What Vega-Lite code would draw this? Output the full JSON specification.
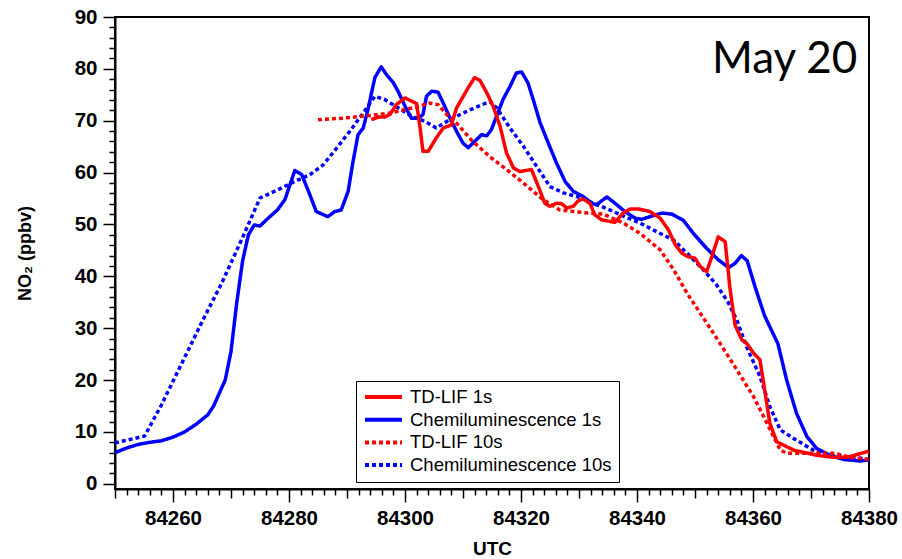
{
  "$schema": "https://vega.github.io/schema/vega-lite/v6.json",
  "width": 754,
  "height": 472,
  "autosize": {"type": "none"},
  "padding": {"left": 115, "top": 17, "right": 33, "bottom": 70},
  "background": "white",
  "config": {
    "view": {"stroke": "black", "strokeWidth": 2},
    "font": "Liberation Sans"
  },
  "datasets": {
    "lines": [
      {"series": "Chemiluminescence 1s", "t": 84250, "v": 6.0},
      {"series": "Chemiluminescence 1s", "t": 84252, "v": 6.9},
      {"series": "Chemiluminescence 1s", "t": 84254, "v": 7.6},
      {"series": "Chemiluminescence 1s", "t": 84256, "v": 8.0},
      {"series": "Chemiluminescence 1s", "t": 84258, "v": 8.3},
      {"series": "Chemiluminescence 1s", "t": 84260, "v": 9.0},
      {"series": "Chemiluminescence 1s", "t": 84262, "v": 10.0},
      {"series": "Chemiluminescence 1s", "t": 84264, "v": 11.5},
      {"series": "Chemiluminescence 1s", "t": 84266, "v": 13.3},
      {"series": "Chemiluminescence 1s", "t": 84267, "v": 15.0},
      {"series": "Chemiluminescence 1s", "t": 84268, "v": 17.5},
      {"series": "Chemiluminescence 1s", "t": 84269, "v": 20.0},
      {"series": "Chemiluminescence 1s", "t": 84270, "v": 25.5},
      {"series": "Chemiluminescence 1s", "t": 84271, "v": 35.0},
      {"series": "Chemiluminescence 1s", "t": 84272, "v": 43.0},
      {"series": "Chemiluminescence 1s", "t": 84273, "v": 48.0},
      {"series": "Chemiluminescence 1s", "t": 84274, "v": 49.9},
      {"series": "Chemiluminescence 1s", "t": 84275, "v": 49.7},
      {"series": "Chemiluminescence 1s", "t": 84276.4, "v": 51.2},
      {"series": "Chemiluminescence 1s", "t": 84278, "v": 52.8},
      {"series": "Chemiluminescence 1s", "t": 84279.3, "v": 54.8},
      {"series": "Chemiluminescence 1s", "t": 84281, "v": 60.4},
      {"series": "Chemiluminescence 1s", "t": 84282.2, "v": 59.6},
      {"series": "Chemiluminescence 1s", "t": 84283.5, "v": 56.0},
      {"series": "Chemiluminescence 1s", "t": 84284.7, "v": 52.5},
      {"series": "Chemiluminescence 1s", "t": 84286.7, "v": 51.5},
      {"series": "Chemiluminescence 1s", "t": 84287.9, "v": 52.5},
      {"series": "Chemiluminescence 1s", "t": 84289, "v": 52.8},
      {"series": "Chemiluminescence 1s", "t": 84290.2, "v": 56.4},
      {"series": "Chemiluminescence 1s", "t": 84291, "v": 61.9},
      {"series": "Chemiluminescence 1s", "t": 84291.9, "v": 67.3},
      {"series": "Chemiluminescence 1s", "t": 84292.8, "v": 68.6},
      {"series": "Chemiluminescence 1s", "t": 84293.6, "v": 72.1},
      {"series": "Chemiluminescence 1s", "t": 84294.8, "v": 78.3},
      {"series": "Chemiluminescence 1s", "t": 84295.9, "v": 80.4},
      {"series": "Chemiluminescence 1s", "t": 84296.8, "v": 78.9},
      {"series": "Chemiluminescence 1s", "t": 84298, "v": 77.3},
      {"series": "Chemiluminescence 1s", "t": 84298.8, "v": 75.7},
      {"series": "Chemiluminescence 1s", "t": 84300, "v": 72.8},
      {"series": "Chemiluminescence 1s", "t": 84301.1, "v": 70.5},
      {"series": "Chemiluminescence 1s", "t": 84302.3, "v": 70.5},
      {"series": "Chemiluminescence 1s", "t": 84303.1, "v": 71.2},
      {"series": "Chemiluminescence 1s", "t": 84303.7, "v": 74.7},
      {"series": "Chemiluminescence 1s", "t": 84304.6, "v": 75.7},
      {"series": "Chemiluminescence 1s", "t": 84305.7, "v": 75.5},
      {"series": "Chemiluminescence 1s", "t": 84306.6, "v": 73.4},
      {"series": "Chemiluminescence 1s", "t": 84308, "v": 69.9},
      {"series": "Chemiluminescence 1s", "t": 84309.2, "v": 67.3},
      {"series": "Chemiluminescence 1s", "t": 84310, "v": 65.7},
      {"series": "Chemiluminescence 1s", "t": 84310.9, "v": 64.8},
      {"series": "Chemiluminescence 1s", "t": 84312, "v": 66.0},
      {"series": "Chemiluminescence 1s", "t": 84313.2, "v": 67.3},
      {"series": "Chemiluminescence 1s", "t": 84314.1, "v": 67.1},
      {"series": "Chemiluminescence 1s", "t": 84314.9, "v": 68.3},
      {"series": "Chemiluminescence 1s", "t": 84315.8, "v": 70.9},
      {"series": "Chemiluminescence 1s", "t": 84316.9, "v": 74.1},
      {"series": "Chemiluminescence 1s", "t": 84318.1, "v": 76.6},
      {"series": "Chemiluminescence 1s", "t": 84319.2, "v": 79.2},
      {"series": "Chemiluminescence 1s", "t": 84320.1, "v": 79.4},
      {"series": "Chemiluminescence 1s", "t": 84321.2, "v": 77.3},
      {"series": "Chemiluminescence 1s", "t": 84322.1, "v": 74.1},
      {"series": "Chemiluminescence 1s", "t": 84323.3, "v": 69.6},
      {"series": "Chemiluminescence 1s", "t": 84324.7, "v": 65.7},
      {"series": "Chemiluminescence 1s", "t": 84326.1, "v": 61.9},
      {"series": "Chemiluminescence 1s", "t": 84327.6, "v": 58.3},
      {"series": "Chemiluminescence 1s", "t": 84329, "v": 56.4},
      {"series": "Chemiluminescence 1s", "t": 84330.7, "v": 55.4},
      {"series": "Chemiluminescence 1s", "t": 84332.2, "v": 54.1},
      {"series": "Chemiluminescence 1s", "t": 84333, "v": 53.8},
      {"series": "Chemiluminescence 1s", "t": 84334.8, "v": 55.3},
      {"series": "Chemiluminescence 1s", "t": 84336.2, "v": 54.1},
      {"series": "Chemiluminescence 1s", "t": 84337.9, "v": 52.5},
      {"series": "Chemiluminescence 1s", "t": 84339.7, "v": 51.2},
      {"series": "Chemiluminescence 1s", "t": 84340.8, "v": 51.0},
      {"series": "Chemiluminescence 1s", "t": 84342.2, "v": 51.5},
      {"series": "Chemiluminescence 1s", "t": 84344.3, "v": 52.2},
      {"series": "Chemiluminescence 1s", "t": 84346, "v": 52.0},
      {"series": "Chemiluminescence 1s", "t": 84348, "v": 50.8},
      {"series": "Chemiluminescence 1s", "t": 84349.7, "v": 48.3},
      {"series": "Chemiluminescence 1s", "t": 84352, "v": 45.4},
      {"series": "Chemiluminescence 1s", "t": 84354, "v": 43.2},
      {"series": "Chemiluminescence 1s", "t": 84355.8, "v": 41.7},
      {"series": "Chemiluminescence 1s", "t": 84356.9, "v": 42.5},
      {"series": "Chemiluminescence 1s", "t": 84358, "v": 44.0},
      {"series": "Chemiluminescence 1s", "t": 84359, "v": 43.0},
      {"series": "Chemiluminescence 1s", "t": 84360.4, "v": 37.8},
      {"series": "Chemiluminescence 1s", "t": 84362, "v": 32.4},
      {"series": "Chemiluminescence 1s", "t": 84364.3, "v": 27.0},
      {"series": "Chemiluminescence 1s", "t": 84365.8, "v": 20.0},
      {"series": "Chemiluminescence 1s", "t": 84367.5, "v": 13.6},
      {"series": "Chemiluminescence 1s", "t": 84369.3, "v": 9.1},
      {"series": "Chemiluminescence 1s", "t": 84371, "v": 6.8},
      {"series": "Chemiluminescence 1s", "t": 84373.3, "v": 5.5},
      {"series": "Chemiluminescence 1s", "t": 84375.6, "v": 4.7},
      {"series": "Chemiluminescence 1s", "t": 84378.5, "v": 4.4},
      {"series": "Chemiluminescence 1s", "t": 84380, "v": 4.6},

      {"series": "Chemiluminescence 10s", "t": 84250, "v": 7.9},
      {"series": "Chemiluminescence 10s", "t": 84255.1, "v": 9.2},
      {"series": "Chemiluminescence 10s", "t": 84258, "v": 15.2},
      {"series": "Chemiluminescence 10s", "t": 84261.5, "v": 23.2},
      {"series": "Chemiluminescence 10s", "t": 84264.9, "v": 31.0},
      {"series": "Chemiluminescence 10s", "t": 84268.4, "v": 38.7},
      {"series": "Chemiluminescence 10s", "t": 84271.8, "v": 47.0},
      {"series": "Chemiluminescence 10s", "t": 84275, "v": 55.1},
      {"series": "Chemiluminescence 10s", "t": 84278.1, "v": 56.7},
      {"series": "Chemiluminescence 10s", "t": 84281, "v": 58.3},
      {"series": "Chemiluminescence 10s", "t": 84283.6, "v": 59.6},
      {"series": "Chemiluminescence 10s", "t": 84285.9, "v": 61.5},
      {"series": "Chemiluminescence 10s", "t": 84288.2, "v": 64.7},
      {"series": "Chemiluminescence 10s", "t": 84290.5, "v": 68.0},
      {"series": "Chemiluminescence 10s", "t": 84292.8, "v": 71.5},
      {"series": "Chemiluminescence 10s", "t": 84294.8, "v": 74.7},
      {"series": "Chemiluminescence 10s", "t": 84296.5, "v": 74.1},
      {"series": "Chemiluminescence 10s", "t": 84298.8, "v": 72.5},
      {"series": "Chemiluminescence 10s", "t": 84301.1, "v": 70.9},
      {"series": "Chemiluminescence 10s", "t": 84303.4, "v": 69.9},
      {"series": "Chemiluminescence 10s", "t": 84305.4, "v": 68.6},
      {"series": "Chemiluminescence 10s", "t": 84307.7, "v": 70.2},
      {"series": "Chemiluminescence 10s", "t": 84311.2, "v": 72.1},
      {"series": "Chemiluminescence 10s", "t": 84314.6, "v": 73.7},
      {"series": "Chemiluminescence 10s", "t": 84315.8, "v": 72.5},
      {"series": "Chemiluminescence 10s", "t": 84318.1, "v": 68.6},
      {"series": "Chemiluminescence 10s", "t": 84320.4, "v": 65.1},
      {"series": "Chemiluminescence 10s", "t": 84322.7, "v": 61.2},
      {"series": "Chemiluminescence 10s", "t": 84325, "v": 57.3},
      {"series": "Chemiluminescence 10s", "t": 84327.3, "v": 56.1},
      {"series": "Chemiluminescence 10s", "t": 84329.6, "v": 55.4},
      {"series": "Chemiluminescence 10s", "t": 84332.5, "v": 54.1},
      {"series": "Chemiluminescence 10s", "t": 84335.3, "v": 52.8},
      {"series": "Chemiluminescence 10s", "t": 84338.5, "v": 51.2},
      {"series": "Chemiluminescence 10s", "t": 84340.5, "v": 50.3},
      {"series": "Chemiluminescence 10s", "t": 84343.4, "v": 48.6},
      {"series": "Chemiluminescence 10s", "t": 84346.3, "v": 47.0},
      {"series": "Chemiluminescence 10s", "t": 84348.6, "v": 44.5},
      {"series": "Chemiluminescence 10s", "t": 84351.4, "v": 41.3},
      {"series": "Chemiluminescence 10s", "t": 84353.7, "v": 38.4},
      {"series": "Chemiluminescence 10s", "t": 84355.7, "v": 35.0},
      {"series": "Chemiluminescence 10s", "t": 84357.2, "v": 31.6},
      {"series": "Chemiluminescence 10s", "t": 84358.9, "v": 26.4},
      {"series": "Chemiluminescence 10s", "t": 84361.2, "v": 20.7},
      {"series": "Chemiluminescence 10s", "t": 84362.9, "v": 14.9},
      {"series": "Chemiluminescence 10s", "t": 84364.7, "v": 10.4},
      {"series": "Chemiluminescence 10s", "t": 84367.5, "v": 8.4},
      {"series": "Chemiluminescence 10s", "t": 84370.4, "v": 6.5},
      {"series": "Chemiluminescence 10s", "t": 84373.3, "v": 5.5},
      {"series": "Chemiluminescence 10s", "t": 84377.3, "v": 5.1},
      {"series": "Chemiluminescence 10s", "t": 84380, "v": 4.7},

      {"series": "TD-LIF 10s", "t": 84285, "v": 70.2},
      {"series": "TD-LIF 10s", "t": 84289.3, "v": 70.5},
      {"series": "TD-LIF 10s", "t": 84293.9, "v": 71.0},
      {"series": "TD-LIF 10s", "t": 84297.4, "v": 71.5},
      {"series": "TD-LIF 10s", "t": 84301.4, "v": 72.5},
      {"series": "TD-LIF 10s", "t": 84304.3, "v": 73.4},
      {"series": "TD-LIF 10s", "t": 84305.7, "v": 73.1},
      {"series": "TD-LIF 10s", "t": 84307.2, "v": 71.2},
      {"series": "TD-LIF 10s", "t": 84309, "v": 69.4},
      {"series": "TD-LIF 10s", "t": 84311.5, "v": 66.2},
      {"series": "TD-LIF 10s", "t": 84314.6, "v": 63.1},
      {"series": "TD-LIF 10s", "t": 84317.5, "v": 60.6},
      {"series": "TD-LIF 10s", "t": 84320.4, "v": 58.0},
      {"series": "TD-LIF 10s", "t": 84323.8, "v": 54.8},
      {"series": "TD-LIF 10s", "t": 84326.7, "v": 52.8},
      {"series": "TD-LIF 10s", "t": 84330.7, "v": 52.3},
      {"series": "TD-LIF 10s", "t": 84334.2, "v": 52.0},
      {"series": "TD-LIF 10s", "t": 84337.6, "v": 50.3},
      {"series": "TD-LIF 10s", "t": 84340.5, "v": 48.3},
      {"series": "TD-LIF 10s", "t": 84344, "v": 45.1},
      {"series": "TD-LIF 10s", "t": 84346.3, "v": 41.3},
      {"series": "TD-LIF 10s", "t": 84348.6, "v": 36.8},
      {"series": "TD-LIF 10s", "t": 84350.9, "v": 32.9},
      {"series": "TD-LIF 10s", "t": 84353.2, "v": 29.0},
      {"series": "TD-LIF 10s", "t": 84355.5, "v": 25.0},
      {"series": "TD-LIF 10s", "t": 84357.2, "v": 22.0},
      {"series": "TD-LIF 10s", "t": 84360.1, "v": 16.8},
      {"series": "TD-LIF 10s", "t": 84362.4, "v": 11.7},
      {"series": "TD-LIF 10s", "t": 84364.7, "v": 6.5},
      {"series": "TD-LIF 10s", "t": 84365.8, "v": 5.9},
      {"series": "TD-LIF 10s", "t": 84369.3, "v": 5.9},
      {"series": "TD-LIF 10s", "t": 84373.9, "v": 5.9},
      {"series": "TD-LIF 10s", "t": 84376.8, "v": 5.1},
      {"series": "TD-LIF 10s", "t": 84380, "v": 4.7},

      {"series": "TD-LIF 1s", "t": 84294.2, "v": 70.2},
      {"series": "TD-LIF 1s", "t": 84295.4, "v": 70.7},
      {"series": "TD-LIF 1s", "t": 84296.5, "v": 70.7},
      {"series": "TD-LIF 1s", "t": 84297.4, "v": 71.2},
      {"series": "TD-LIF 1s", "t": 84298.5, "v": 73.1},
      {"series": "TD-LIF 1s", "t": 84300, "v": 74.4},
      {"series": "TD-LIF 1s", "t": 84302, "v": 73.3},
      {"series": "TD-LIF 1s", "t": 84302.6, "v": 68.6},
      {"series": "TD-LIF 1s", "t": 84303.1, "v": 64.1},
      {"series": "TD-LIF 1s", "t": 84304, "v": 64.1},
      {"series": "TD-LIF 1s", "t": 84305.4, "v": 66.7},
      {"series": "TD-LIF 1s", "t": 84306.6, "v": 68.6},
      {"series": "TD-LIF 1s", "t": 84308, "v": 69.2},
      {"series": "TD-LIF 1s", "t": 84308.9, "v": 72.5},
      {"series": "TD-LIF 1s", "t": 84310, "v": 74.6},
      {"series": "TD-LIF 1s", "t": 84310.8, "v": 76.2},
      {"series": "TD-LIF 1s", "t": 84312, "v": 78.3},
      {"series": "TD-LIF 1s", "t": 84312.9, "v": 77.8},
      {"series": "TD-LIF 1s", "t": 84314.1, "v": 75.4},
      {"series": "TD-LIF 1s", "t": 84315.2, "v": 72.8},
      {"series": "TD-LIF 1s", "t": 84316.4, "v": 68.9},
      {"series": "TD-LIF 1s", "t": 84317.5, "v": 63.8},
      {"series": "TD-LIF 1s", "t": 84318.7, "v": 60.9},
      {"series": "TD-LIF 1s", "t": 84319.8, "v": 60.2},
      {"series": "TD-LIF 1s", "t": 84321.8, "v": 60.6},
      {"series": "TD-LIF 1s", "t": 84323, "v": 57.3},
      {"series": "TD-LIF 1s", "t": 84324.1, "v": 54.1},
      {"series": "TD-LIF 1s", "t": 84325, "v": 53.5},
      {"series": "TD-LIF 1s", "t": 84326.1, "v": 54.1},
      {"series": "TD-LIF 1s", "t": 84327, "v": 54.0},
      {"series": "TD-LIF 1s", "t": 84327.9, "v": 53.2},
      {"series": "TD-LIF 1s", "t": 84329, "v": 53.5},
      {"series": "TD-LIF 1s", "t": 84329.9, "v": 54.6},
      {"series": "TD-LIF 1s", "t": 84330.7, "v": 54.9},
      {"series": "TD-LIF 1s", "t": 84331.9, "v": 54.1},
      {"series": "TD-LIF 1s", "t": 84332.7, "v": 51.9},
      {"series": "TD-LIF 1s", "t": 84333.9, "v": 50.9},
      {"series": "TD-LIF 1s", "t": 84335.3, "v": 50.6},
      {"series": "TD-LIF 1s", "t": 84336.2, "v": 50.4},
      {"series": "TD-LIF 1s", "t": 84337.6, "v": 52.2},
      {"series": "TD-LIF 1s", "t": 84338.8, "v": 53.0},
      {"series": "TD-LIF 1s", "t": 84340.2, "v": 53.0},
      {"series": "TD-LIF 1s", "t": 84342.2, "v": 52.5},
      {"series": "TD-LIF 1s", "t": 84344, "v": 51.2},
      {"series": "TD-LIF 1s", "t": 84345.4, "v": 49.0},
      {"series": "TD-LIF 1s", "t": 84346.6, "v": 46.1},
      {"series": "TD-LIF 1s", "t": 84347.7, "v": 44.5},
      {"series": "TD-LIF 1s", "t": 84348.8, "v": 43.8},
      {"series": "TD-LIF 1s", "t": 84350, "v": 43.5},
      {"series": "TD-LIF 1s", "t": 84350.9, "v": 41.9},
      {"series": "TD-LIF 1s", "t": 84352, "v": 40.9},
      {"series": "TD-LIF 1s", "t": 84352.9, "v": 43.8},
      {"series": "TD-LIF 1s", "t": 84354, "v": 47.6},
      {"series": "TD-LIF 1s", "t": 84355.2, "v": 46.7},
      {"series": "TD-LIF 1s", "t": 84356, "v": 38.0},
      {"series": "TD-LIF 1s", "t": 84356.9, "v": 30.6},
      {"series": "TD-LIF 1s", "t": 84358.1, "v": 27.7},
      {"series": "TD-LIF 1s", "t": 84358.9, "v": 27.1},
      {"series": "TD-LIF 1s", "t": 84360.1, "v": 25.2},
      {"series": "TD-LIF 1s", "t": 84361.2, "v": 23.9},
      {"series": "TD-LIF 1s", "t": 84362.1, "v": 17.5},
      {"series": "TD-LIF 1s", "t": 84362.9, "v": 11.7},
      {"series": "TD-LIF 1s", "t": 84364.1, "v": 8.1},
      {"series": "TD-LIF 1s", "t": 84367, "v": 6.5},
      {"series": "TD-LIF 1s", "t": 84371, "v": 5.5},
      {"series": "TD-LIF 1s", "t": 84373.9, "v": 5.1},
      {"series": "TD-LIF 1s", "t": 84376.2, "v": 5.1},
      {"series": "TD-LIF 1s", "t": 84380, "v": 6.3}
    ],
    "label": [{"t": 84378, "v": 79.2, "txt": "May 20"}]
  },
  "layer": [
    {
      "data": {"name": "lines"},
      "mark": {"type": "line", "strokeWidth": 3.5, "strokeCap": "butt", "strokeJoin": "round"},
      "encoding": {
        "x": {
          "field": "t", "type": "quantitative", "title": "UTC",
          "scale": {"domain": [84250, 84380], "nice": false, "zero": false},
          "axis": {
            "values": [84250,84252,84254,84256,84258,84260,84262,84264,84266,84268,84270,84272,84274,84276,84278,84280,84282,84284,84286,84288,84290,84292,84294,84296,84298,84300,84302,84304,84306,84308,84310,84312,84314,84316,84318,84320,84322,84324,84326,84328,84330,84332,84334,84336,84338,84340,84342,84344,84346,84348,84350,84352,84354,84356,84358,84360,84362,84364,84366,84368,84370,84372,84374,84376,84378,84380],
            "tickCount": 200,
            "format": "d",
            "labelExpr": "datum.value % 20 === 0 ? datum.label : ''",
            "labelOverlap": false,
            "labelFlush": false,
            "grid": false,
            "domainColor": "black", "domainWidth": 2,
            "tickColor": "black", "tickWidth": 1.5,
            "tickSize": {"condition": [{"test": "datum.value % 20 === 0", "value": 13}, {"test": "datum.value % 10 === 0", "value": 9}], "value": 6},
            "labelFont": "Liberation Sans", "labelFontSize": 20.5, "labelFontWeight": "bold", "labelColor": "black",
            "labelPadding": 6,
            "titleFont": "Liberation Sans", "titleFontSize": 19, "titleFontWeight": "bold", "titleColor": "black",
            "titlePadding": 11
          }
        },
        "y": {
          "field": "v", "type": "quantitative", "title": "NO₂ (ppbv)",
          "scale": {"domain": [-1, 90], "nice": false, "zero": false},
          "axis": {
            "values": [0,2,4,6,8,10,12,14,16,18,20,22,24,26,28,30,32,34,36,38,40,42,44,46,48,50,52,54,56,58,60,62,64,66,68,70,72,74,76,78,80,82,84,86,88,90],
            "tickCount": 200,
            "format": "d",
            "labelExpr": "datum.value % 10 === 0 ? datum.label : ''",
            "labelOverlap": false,
            "labelFlush": false,
            "grid": false,
            "domainColor": "black", "domainWidth": 2,
            "tickColor": "black", "tickWidth": 1.5,
            "tickSize": {"condition": {"test": "datum.value % 10 === 0", "value": 12}, "value": 6},
            "labelFont": "Liberation Sans", "labelFontSize": 20.5, "labelFontWeight": "bold", "labelColor": "black",
            "labelPadding": 6,
            "titleFont": "Liberation Sans", "titleFontSize": 18, "titleFontWeight": "bold", "titleColor": "black",
            "titlePadding": 40
          }
        },
        "color": {
          "field": "series", "type": "nominal",
          "scale": {"domain": ["TD-LIF 1s", "Chemiluminescence 1s", "TD-LIF 10s", "Chemiluminescence 10s"], "range": ["#ff0000", "#0000ff", "#ff0000", "#0000ff"]},
          "legend": {
            "title": null, "orient": "none", "legendX": 241, "legendY": 364,
            "symbolType": "stroke", "symbolSize": 1369, "symbolStrokeWidth": 4,
            "clipHeight": 18,
            "labelFont": "Liberation Sans", "labelFontSize": 18.5, "labelColor": "black", "labelLimit": 400,
            "labelOffset": 6, "rowPadding": 3.7, "padding": 7,
            "strokeColor": "black", "fillColor": "white"
          }
        },
        "strokeDash": {
          "field": "series", "type": "nominal",
          "scale": {"domain": ["TD-LIF 1s", "Chemiluminescence 1s", "TD-LIF 10s", "Chemiluminescence 10s"], "range": [[1, 0], [1, 0], [4, 3], [4, 3]]},
          "legend": {
            "title": null, "orient": "none", "legendX": 241, "legendY": 364,
            "symbolType": "stroke", "symbolSize": 1369, "symbolStrokeWidth": 4,
            "clipHeight": 18,
            "labelFont": "Liberation Sans", "labelFontSize": 18.5, "labelColor": "black", "labelLimit": 400,
            "labelOffset": 6, "rowPadding": 3.7, "padding": 7,
            "strokeColor": "black", "fillColor": "white"
          }
        }
      }
    },
    {
      "data": {"name": "label"},
      "mark": {"type": "text", "align": "right", "baseline": "alphabetic", "font": "Lato", "fontSize": 44, "color": "black"},
      "encoding": {
        "x": {"field": "t", "type": "quantitative"},
        "y": {"field": "v", "type": "quantitative"},
        "text": {"field": "txt"}
      }
    }
  ]
}
